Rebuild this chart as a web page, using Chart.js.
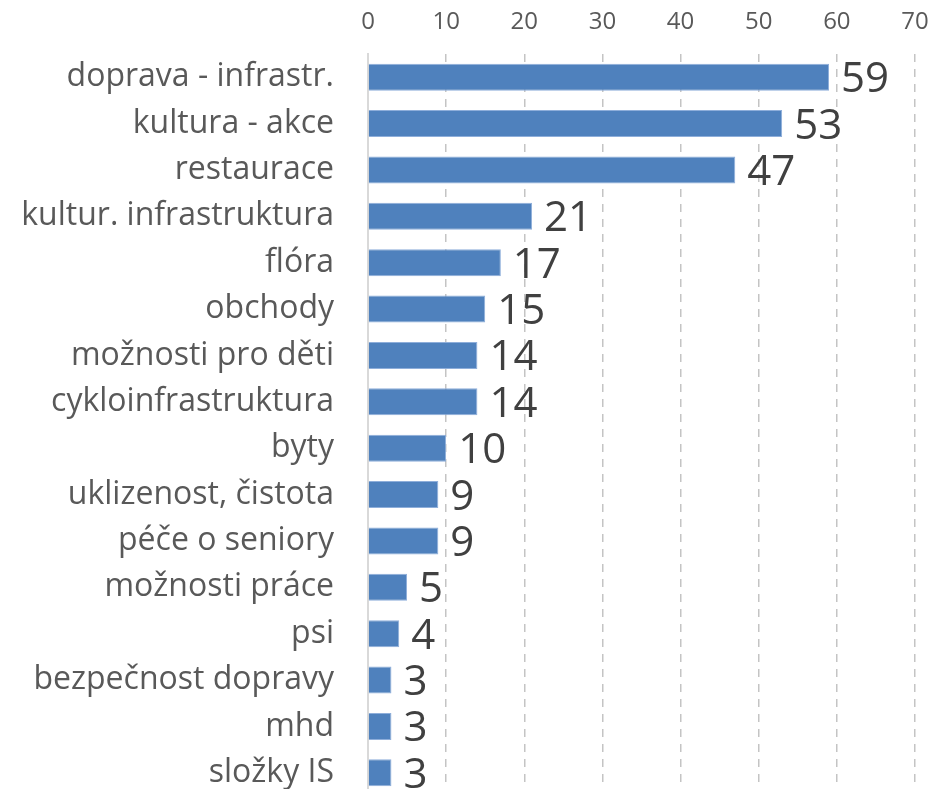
<!DOCTYPE html>
<html>
<head>
<meta charset="utf-8">
<script src="https://cdn.jsdelivr.net/npm/chart.js@4.4.0/dist/chart.umd.min.js"></script>
<style>
  html, body { margin: 0; padding: 0; background: #fff; overflow: hidden; }
  #wrap { position: relative; width: 930px; height: 796px; }
</style>
</head>
<body>
<div id="wrap"><canvas id="chart"></canvas></div>
<script>
// categories and counts
const categories = [
    'doprava - infrastr.', 'kultura - akce', 'restaurace', 'kultur. infrastruktura',
    'flóra', 'obchody', 'možnosti pro děti', 'cykloinfrastruktura', 'byty',
    'uklizenost, čistota', 'péče o seniory', 'možnosti práce', 'psi',
    'bezpečnost dopravy', 'mhd', 'složky IS'
];
const counts = [59, 53, 47, 21, 17, 15, 14, 14, 10, 9, 9, 5, 4, 3, 3, 3];
const tickValues = [0, 10, 20, 30, 40, 50, 60, 70];

const FONT = '"Open Sans", Lato, sans-serif';

// draw value next to each bar end
const valueLabels = {
    id: 'valueLabels',
    afterDatasetsDraw(chart) {
        const ctx = chart.ctx;
        const meta = chart.getDatasetMeta(0);
        ctx.save();
        ctx.font = '42px ' + FONT;
        ctx.fillStyle = '#404040';
        ctx.textAlign = 'left';
        ctx.textBaseline = 'middle';
        meta.data.forEach((bar, i) => {
            ctx.fillText(String(counts[i]), bar.x + 12, bar.y + 3);
        });
        ctx.restore();
    }
};

document.addEventListener('DOMContentLoaded', () => {
    const ctx = document.getElementById('chart').getContext('2d');
    new Chart(ctx, {
        type: 'bar',
        data: {
            labels: categories,
            datasets: [{
                data: counts,
                backgroundColor: '#4F81BD',
                borderColor: '#8EAEDA',
                borderWidth: 1,
                categoryPercentage: 0.58,
                barPercentage: 1
            }]
        },
        options: {
            indexAxis: 'y',
            responsive: true,
            maintainAspectRatio: false,
            animation: false,
            layout: { padding: { top: 0, right: 15, left: 0, bottom: 0 } },
            plugins: {
                legend: { display: false },
                tooltip: { enabled: false }
            },
            scales: {
                x: {
                    position: 'top',
                    min: 0,
                    max: 70,
                    afterBuildTicks: axis => {
                        axis.ticks = tickValues.map(v => ({ value: v }));
                    },
                    afterFit: axis => {
                        axis.height = 54;
                        axis.paddingLeft = 0;
                        axis.paddingRight = 0;
                    },
                    grid: {
                        color: '#C4C4C4',
                        lineWidth: 1.5,
                        drawTicks: false
                    },
                    border: { display: false, dash: [8, 7] },
                    ticks: {
                        color: '#595959',
                        font: { family: FONT, size: 24 },
                        padding: 17
                    }
                },
                y: {
                    afterFit: axis => {
                        axis.width = 368;
                        axis.paddingTop = 0;
                        axis.paddingBottom = 0;
                    },
                    grid: { display: false, drawTicks: false },
                    border: { display: true, color: '#D9D9D9', width: 2 },
                    ticks: {
                        color: '#595959',
                        font: { family: FONT, size: 32 },
                        padding: 34,
                        autoSkip: false
                    }
                }
            }
        },
        plugins: [valueLabels]
    });
});
</script>
</body>
</html>
